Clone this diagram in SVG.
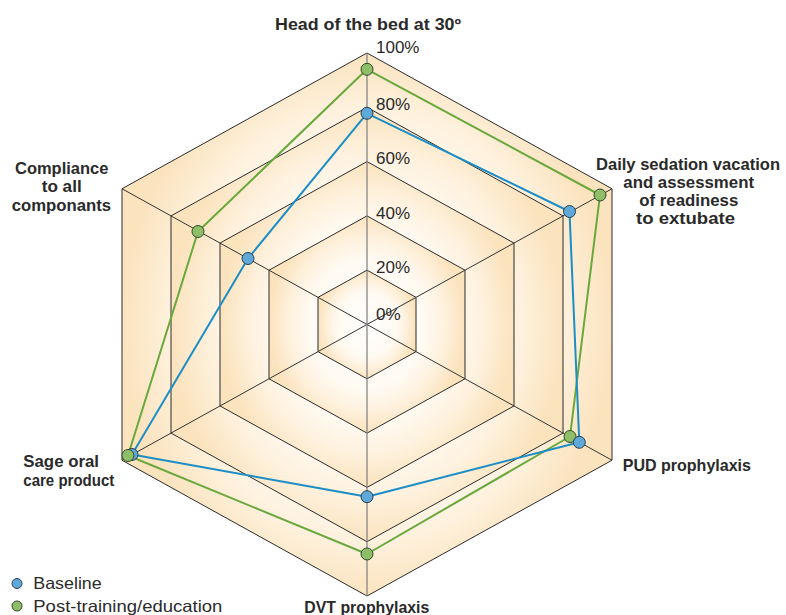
<svg xmlns="http://www.w3.org/2000/svg" width="786" height="615" viewBox="0 0 786 615">
  <defs>
    <radialGradient id="band" cx="0.5" cy="0.5" r="0.5">
      <stop offset="0" stop-color="#FFFFFF"/>
      <stop offset="0.6" stop-color="#FFFAF2"/>
      <stop offset="0.8" stop-color="#FEF1DD"/>
      <stop offset="1" stop-color="#FBE3BE"/>
    </radialGradient>
  </defs>
  <style>
    .ring { fill: url(#band); stroke: #2b2b2b; stroke-width: 1; }
    .spoke { stroke: #333333; stroke-width: 1; }
    .vspoke { stroke: #7c7c7c; stroke-width: 1.2; }
    .pct { font-family: "Liberation Sans", Arial, sans-serif; font-size: 17px; fill: #2a2a2a; }
    .lbl { font-family: "Liberation Sans", Arial, sans-serif; font-size: 16.5px; font-weight: bold; fill: #2a2a2a; }
    .leg { font-family: "Liberation Sans", Arial, sans-serif; font-size: 16.5px; fill: #2a2a2a; }
    .blue-line { fill: none; stroke: #1C8EC6; stroke-width: 2; stroke-linejoin: round; }
    .green-line { fill: none; stroke: #69A83C; stroke-width: 2; stroke-linejoin: round; }
    .blue-pt { fill: #5EA8DA; stroke: #2A3F4C; stroke-width: 1; }
    .green-pt { fill: #8EBF68; stroke: #2F4A2A; stroke-width: 1; }
  </style>

  <g id="grid">
    <polygon class="ring" points="367,53 612,188.75 612,460.25 367,596 122,460.25 122,188.75"/>
    <polygon class="ring" points="367,107.3 563,215.9 563,433.1 367,541.7 171,433.1 171,215.9"/>
    <polygon class="ring" points="367,161.6 514,243.05 514,405.95 367,487.4 220,405.95 220,243.05"/>
    <polygon class="ring" points="367,215.9 465,270.2 465,378.8 367,433.1 269,378.8 269,270.2"/>
    <polygon class="ring" points="367,270.2 416,297.35 416,351.65 367,378.8 318,351.65 318,297.35"/>
    <line class="spoke" x1="122" y1="188.75" x2="612" y2="460.25"/>
    <line class="spoke" x1="612" y1="188.75" x2="122" y2="460.25"/>
    <line class="vspoke" x1="367" y1="53" x2="367" y2="596"/>
  </g>

  <g id="scale">
    <text class="pct" x="376" y="320">0%</text>
    <text class="pct" x="376" y="272.5">20%</text>
    <text class="pct" x="376" y="218.5">40%</text>
    <text class="pct" x="376" y="164">60%</text>
    <text class="pct" x="376" y="109.5">80%</text>
    <text class="pct" x="376" y="53">100%</text>
  </g>

  <g id="connectors">
    <polygon class="green-line" points="367,69.3 600,195 570,436.5 367,554 128,455.5 198,231.5"/>
    <polygon class="blue-line" points="367,113.3 569.5,211.5 579.3,442.3 367,496.7 132,454.5 248,258.5"/>
  </g>

  <g id="points">
    <circle class="blue-pt" cx="367" cy="113.3" r="6"/>
    <circle class="blue-pt" cx="569.5" cy="211.5" r="6"/>
    <circle class="blue-pt" cx="367" cy="496.7" r="6"/>
    <circle class="blue-pt" cx="132" cy="454.5" r="6"/>
    <circle class="blue-pt" cx="248" cy="258.5" r="6"/>
    <circle class="green-pt" cx="367" cy="69.3" r="6"/>
    <circle class="green-pt" cx="600" cy="195" r="6"/>
    <circle class="green-pt" cx="570" cy="436.5" r="6"/>
    <circle class="green-pt" cx="367" cy="554" r="6"/>
    <circle class="green-pt" cx="128" cy="455.5" r="6"/>
    <circle class="green-pt" cx="198" cy="231.5" r="6"/>
    <circle class="blue-pt" cx="579.3" cy="442.3" r="6"/>
  </g>

  <g id="node-head">
    <text class="lbl" x="275" y="30" textLength="186" lengthAdjust="spacingAndGlyphs">Head of the bed at 30º</text>
  </g>
  <g id="node-sedation">
    <text class="lbl" x="596" y="169.5" textLength="184" lengthAdjust="spacingAndGlyphs">Daily sedation vacation</text>
    <text class="lbl" x="623.3" y="188" textLength="130.7" lengthAdjust="spacingAndGlyphs">and assessment</text>
    <text class="lbl" x="639.3" y="206" textLength="99" lengthAdjust="spacingAndGlyphs">of readiness</text>
    <text class="lbl" x="636" y="224" textLength="99" lengthAdjust="spacingAndGlyphs">to extubate</text>
  </g>
  <g id="node-pud">
    <text class="lbl" x="622.7" y="471" textLength="128.3" lengthAdjust="spacingAndGlyphs">PUD prophylaxis</text>
  </g>
  <g id="node-dvt">
    <text class="lbl" x="304.3" y="613" textLength="125" lengthAdjust="spacingAndGlyphs">DVT prophylaxis</text>
  </g>
  <g id="node-sage">
    <text class="lbl" x="23.3" y="467" textLength="75.7" lengthAdjust="spacingAndGlyphs">Sage oral</text>
    <text class="lbl" x="23.3" y="485.5" textLength="91" lengthAdjust="spacingAndGlyphs">care product</text>
  </g>
  <g id="node-compliance">
    <text class="lbl" x="15" y="173.5" textLength="93.3" lengthAdjust="spacingAndGlyphs">Compliance</text>
    <text class="lbl" x="41.7" y="192" textLength="40" lengthAdjust="spacingAndGlyphs">to all</text>
    <text class="lbl" x="11.7" y="210.5" textLength="99.3" lengthAdjust="spacingAndGlyphs">componants</text>
  </g>

  <g id="legend">
    <circle class="blue-pt" cx="17" cy="583.5" r="5"/>
    <text class="leg" x="33.3" y="589" textLength="68.4" lengthAdjust="spacingAndGlyphs">Baseline</text>
    <circle class="green-pt" cx="17" cy="606" r="5"/>
    <text class="leg" x="33.3" y="611.5" textLength="189" lengthAdjust="spacingAndGlyphs">Post-training/education</text>
  </g>
</svg>
